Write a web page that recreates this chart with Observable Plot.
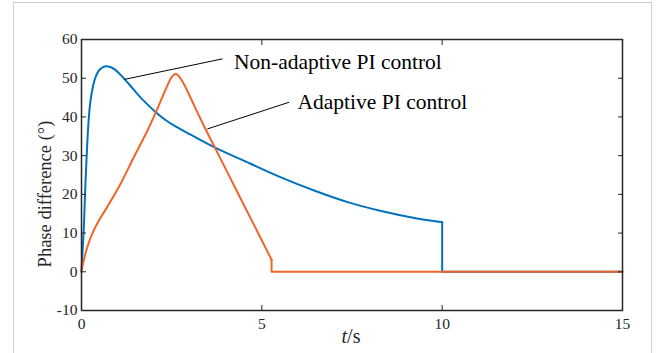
<!DOCTYPE html>
<html><head><meta charset="utf-8">
<script src="https://cdn.jsdelivr.net/npm/d3@7"></script>
<script src="https://cdn.jsdelivr.net/npm/@observablehq/plot@0.6"></script>
<style>
body{margin:0;background:#fff;}
#chart{width:656px;height:353px;}
</style></head><body><div id="chart"></div>
<script>
// Non-adaptive PI control (blue)
const blueT = [0, 0.03, 0.065, 0.11, 0.16, 0.20, 0.25, 0.32, 0.39, 0.50, 0.67, 0.80, 0.90, 1.04, 1.18, 1.38, 1.59, 1.82, 2.06, 2.30, 2.56, 3.03, 3.72, 4.69, 5.53, 6.45, 7.38, 8.31, 9.23, 10.0, 10.0, 15];
const blueY = [0, 5.5, 11.5, 23.0, 33.1, 39.5, 44.2, 48.0, 50.3, 52.2, 53.1, 52.9, 52.4, 51.3, 49.9, 47.8, 45.5, 43.3, 41.2, 39.4, 37.8, 35.4, 32.0, 27.9, 24.4, 21.0, 18.0, 15.7, 13.9, 12.8, 0, 0];
// Adaptive PI control (orange)
const orangeT = [0, 0.05, 0.16, 0.34, 0.52, 0.71, 1.08, 1.45, 1.83, 2.06, 2.38, 2.48, 2.56, 2.61, 2.66, 2.74, 2.85, 3.00, 3.40, 3.86, 4.32, 4.79, 5.27, 5.27, 15];
const orangeY = [0, 2.4, 6.4, 10.7, 13.8, 16.7, 22.7, 29.6, 36.5, 41.2, 48.1, 50.0, 50.9, 51.1, 50.9, 50.0, 48.3, 45.4, 37.6, 29.1, 20.6, 12.0, 3.1, 0, 0];

const xTicks = [0, 5, 10, 15];
const yTicks = [-10, 0, 10, 20, 30, 40, 50, 60];

const annoText = ["Non-adaptive PI control", "Adaptive PI control"];
const annoX = [4.23, 5.99];
const annoY = [54.2, 43.9];
const leadX1 = [1.19, 3.49];
const leadY1 = [49.7, 36.9];
const leadX2 = [3.91, 5.76];
const leadY2 = [55.0, 43.8];

function rows(T, Y) { return T.map((t, i) => ({t, y: Y[i]})); }
function splitAtJump(T) { for (let i = 1; i < T.length; i++) if (T[i] === T[i - 1]) return i; return T.length; }
const bj = splitAtJump(blueT), oj = splitAtJump(orangeT);
const blueSmooth = rows(blueT.slice(0, bj), blueY.slice(0, bj));
const blueTail = rows(blueT.slice(bj - 1), blueY.slice(bj - 1));
const orangeSmooth = rows(orangeT.slice(0, oj), orangeY.slice(0, oj));
const orangeTail = rows(orangeT.slice(oj - 1), orangeY.slice(oj - 1));
const annos = annoText.map((s, i) => ({s, x: annoX[i], y: annoY[i]}));
const leads = leadX1.map((x1, i) => ({x1, y1: leadY1[i], x2: leadX2[i], y2: leadY2[i]}));

const fmt = d => String(d);
const serif = "'Liberation Serif','Times New Roman',serif";
const BLUE = "#0072BD", ORANGE = "#F0642A";
const plot = Plot.plot({
  width: 656, height: 353,
  marginLeft: 81, marginRight: 34, marginTop: 39, marginBottom: 43,
  style: {fontFamily: serif, fontSize: "15.5px", color: "#262626", background: "white", overflow: "visible"},
  x: {domain: [0, 15]},
  y: {domain: [-10, 60]},
  marks: [
    Plot.line(blueSmooth, {x: "t", y: "y", stroke: BLUE, strokeWidth: 2, curve: "catmull-rom"}),
    Plot.line(blueTail, {x: "t", y: "y", stroke: BLUE, strokeWidth: 2}),
    Plot.line(orangeSmooth, {x: "t", y: "y", stroke: ORANGE, strokeWidth: 2, curve: "catmull-rom"}),
    Plot.line(orangeTail, {x: "t", y: "y", stroke: ORANGE, strokeWidth: 2}),
    Plot.link(leads, {x1: "x1", y1: "y1", x2: "x2", y2: "y2", stroke: "black", strokeWidth: 1}),
    Plot.text(annos, {x: "x", y: "y", text: "s", textAnchor: "start", fontSize: 21.5, fill: "black"}),
    Plot.frame({stroke: "#262626", strokeWidth: 1.5}),
    Plot.axisX({ticks: xTicks, tickSize: -5, tickPadding: 12, tickFormat: fmt, label: null}),
    Plot.axisX({anchor: "top", ticks: xTicks, tickSize: -5, tickFormat: () => "", label: null}),
    Plot.axisY({ticks: yTicks, tickSize: -5, tickPadding: 9, tickFormat: fmt, label: null}),
    Plot.axisY({anchor: "right", ticks: yTicks, tickSize: -5, tickFormat: () => "", label: null})
  ]
});
document.getElementById("chart").appendChild(plot);

const svg = d3.select(plot);
svg.insert("rect", ":first-child")
  .attr("x", 13.5).attr("y", 2.5).attr("width", 638).attr("height", 400)
  .attr("fill", "none").attr("stroke", "#d0d0d0").attr("stroke-width", 1);
svg.append("text")
  .attr("transform", "translate(51,194) rotate(-90)")
  .attr("text-anchor", "middle").attr("font-size", 18.5).attr("fill", "#262626")
  .text("Phase difference (°)");
const xl = svg.append("text")
  .attr("x", 351).attr("y", 343).attr("text-anchor", "middle")
  .attr("font-size", 20).attr("fill", "#262626");
xl.append("tspan").attr("font-style", "italic").text("t");
xl.append("tspan").text("/s");
</script></body></html>
